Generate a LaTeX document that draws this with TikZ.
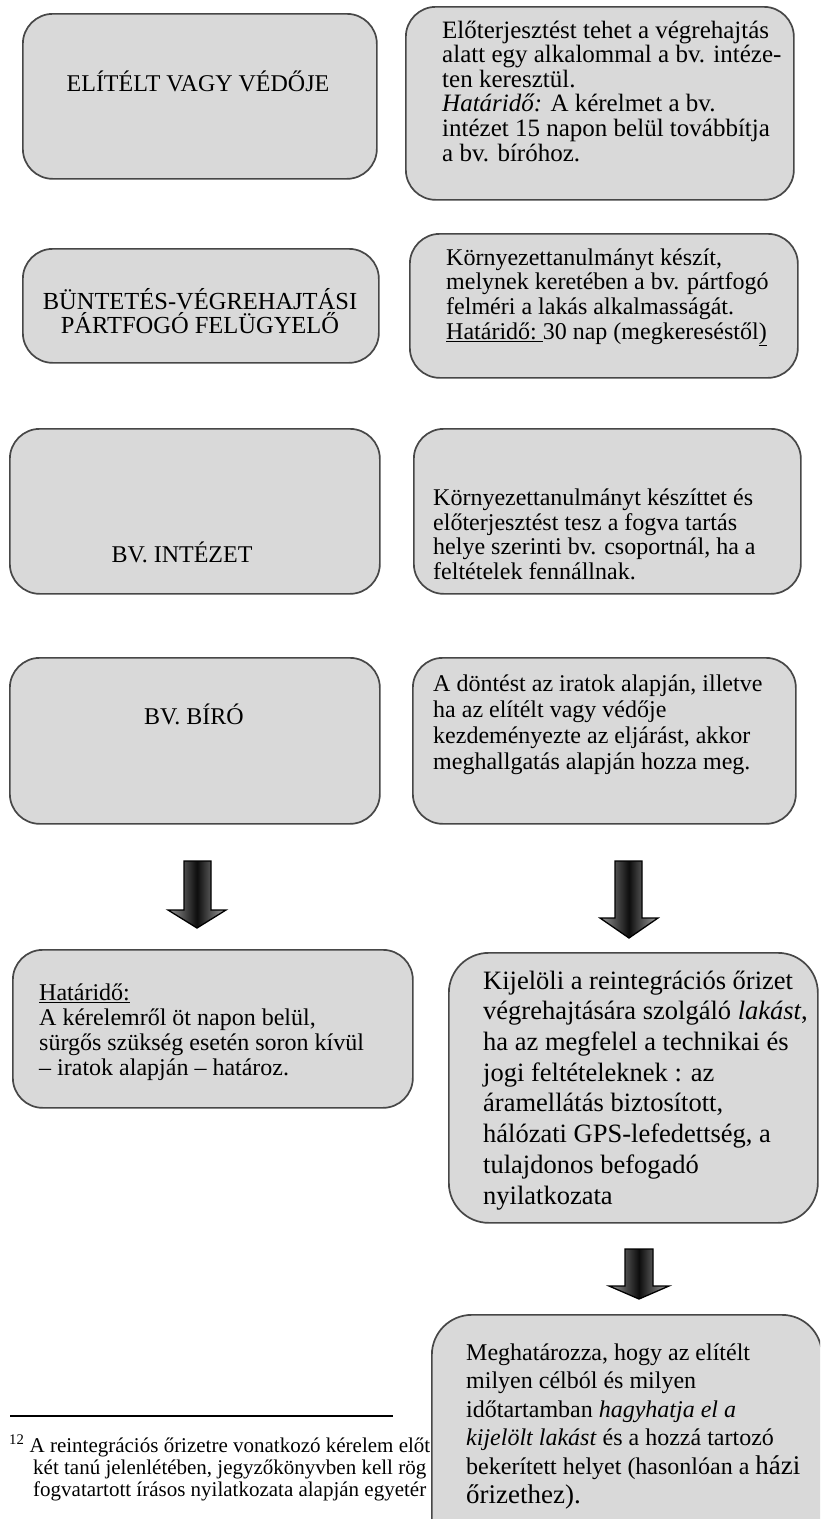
\documentclass[tikz,border=0pt]{standalone}
\usepackage{fontspec}
\setmainfont{Liberation Serif}
\definecolor{boxfill}{HTML}{D9D9D9}
\definecolor{boxline}{HTML}{474747}
\tikzset{
  box/.style={draw=boxline, fill=boxfill, line width=1.7pt, rounded corners=30pt, inner sep=0pt, anchor=north west},
  bigbox/.style={box, rounded corners=40pt},
  txt/.style={inner sep=0pt, align=left, anchor=base west},
  ctxt/.style={inner sep=0pt, align=center, anchor=base},
  blockarrow/.style={draw=black, line width=1.3pt, line join=miter, left color=black!40, right color=black!35, middle color=black!95},
  footrule/.style={line width=1.8pt},
}
\newcommand\fs[2]{\fontsize{#1}{#2}\selectfont}
\begin{document}
\begin{tikzpicture}[x=1pt,y=-1pt]
\useasboundingbox (0,0) rectangle (820,1519);
\clip (0,0) rectangle (820,1519);

% row 1
\node[box, minimum width=354pt, minimum height=165pt] (b1) at (22,13) {};
\node[ctxt, font=\fs{24}{28}] (t1) at (198,91) {ELÍTÉLT VAGY VÉDŐJE};
\node[box, minimum width=388pt, minimum height=193pt] (b2) at (405,6) {};
\node[txt, font=\fs{25}{24.6}] (t2) at (442,161) {Előterjesztést tehet a végrehajtás\\
alatt egy alkalommal a bv. intéze-\\
ten keresztül.\\
\textit{Határidő:} A kérelmet a bv.\\
intézet 15 napon belül továbbítja\\
a bv. bíróhoz.};

% row 2
\node[box, minimum width=356pt, minimum height=114pt] (b3) at (22,248) {};
\node[ctxt, font=\fs{24.5}{24}] (t3) at (200,333) {BÜNTETÉS-VÉGREHAJTÁSI\\PÁRTFOGÓ FELÜGYELŐ};
\node[box, minimum width=388pt, minimum height=144pt] (b4) at (409,233) {};
\node[txt, font=\fs{24}{24.6}] (t4) at (446,339) {Környezettanulmányt készít,\\
melynek keretében a bv. pártfogó\\
felméri a lakás alkalmasságát.\\
\underline{Határidő:\ }30 nap (megkereséstől\underline{)}};

% row 3
\node[box, minimum width=370pt, minimum height=165pt] (b5) at (9,428) {};
\node[ctxt, font=\fs{24}{28}] (t5) at (182,562) {BV. INTÉZET};
\node[box, minimum width=387pt, minimum height=165pt] (b6) at (413,428) {};
\node[txt, font=\fs{24}{24.4}] (t6) at (433,579) {Környezettanulmányt készíttet és\\
előterjesztést tesz a fogva tartás\\
helye szerinti bv. csoportnál, ha a\\
feltételek fennállnak.};

% row 4
\node[box, minimum width=370pt, minimum height=166pt] (b7) at (9,657) {};
\node[ctxt, font=\fs{24}{28}] (t7) at (194,724) {BV. BÍRÓ};
\node[box, minimum width=383pt, minimum height=166pt] (b8) at (412,657) {};
\node[txt, font=\fs{24}{26}] (t8) at (433,769) {A döntést az iratok alapján, illetve\\
ha az elítélt vagy védője\\
kezdeményezte az eljárást, akkor\\
meghallgatás alapján hozza meg.};

% arrows
\draw[blockarrow] (184,861) -- (211,861) -- (211,910) -- (226,910) -- (197,928) -- (168,910) -- (184,910) -- cycle;
\draw[blockarrow] (615,861) -- (642,861) -- (642,918) -- (658,918) -- (629,938) -- (600,918) -- (615,918) -- cycle;
\draw[blockarrow] (625,1249) -- (653,1249) -- (653,1286) -- (669,1286) -- (639,1299) -- (609,1286) -- (625,1286) -- cycle;

% row 5
\node[box, minimum width=400pt, minimum height=158pt] (b9) at (12,949) {};
\node[txt, font=\fs{24}{25}] (t9) at (39,1075) {\underline{Határidő:}\\
A kérelemről öt napon belül,\\
sürgős szükség esetén soron kívül\\
– iratok alapján – határoz.};
\node[bigbox, minimum width=369pt, minimum height=270pt] (b10) at (448,952) {};
\node[txt, font=\fs{26.5}{30.7}] (t10) at (483,1204) {Kijelöli a reintegrációs őrizet\\
végrehajtására szolgáló \textit{lakást},\\
ha az megfelel a technikai és\\
jogi feltételeknek : az\\
áramellátás biztosított,\\
hálózati GPS-lefedettség, a\\
tulajdonos befogadó\\
nyilatkozata};

% footnote
\coordinate (fl1) at (10,1416);
\coordinate (fl2) at (393,1416);
\draw[footrule] (fl1) -- (fl2);
\node[txt, font=\fs{21}{22}] (fn) at (9,1496) {\textsuperscript{12} A reintegrációs őrizetre vonatkozó kérelem előt\\
\hspace*{24pt}két tanú jelenlétében, jegyzőkönyvben kell rög\\
\hspace*{24pt}fogvatartott írásos nyilatkozata alapján egyetér};

% last box
\node[bigbox, minimum width=390pt, minimum height=260pt] (b11) at (431,1314) {};
\node[txt, font=\fs{24}{28.6}] (t11) at (466,1503) {Meghatározza, hogy az elítélt\\
milyen célból és milyen\\
időtartamban \textit{hagyhatja el a}\\
\textit{kijelölt lakást} és a hozzá tartozó\\
bekerített helyet (hasonlóan a {\fontsize{27}{28.6}\selectfont házi}\\
{\fontsize{27}{28.6}\selectfont őrizethez).}};
\end{tikzpicture}
\end{document}
